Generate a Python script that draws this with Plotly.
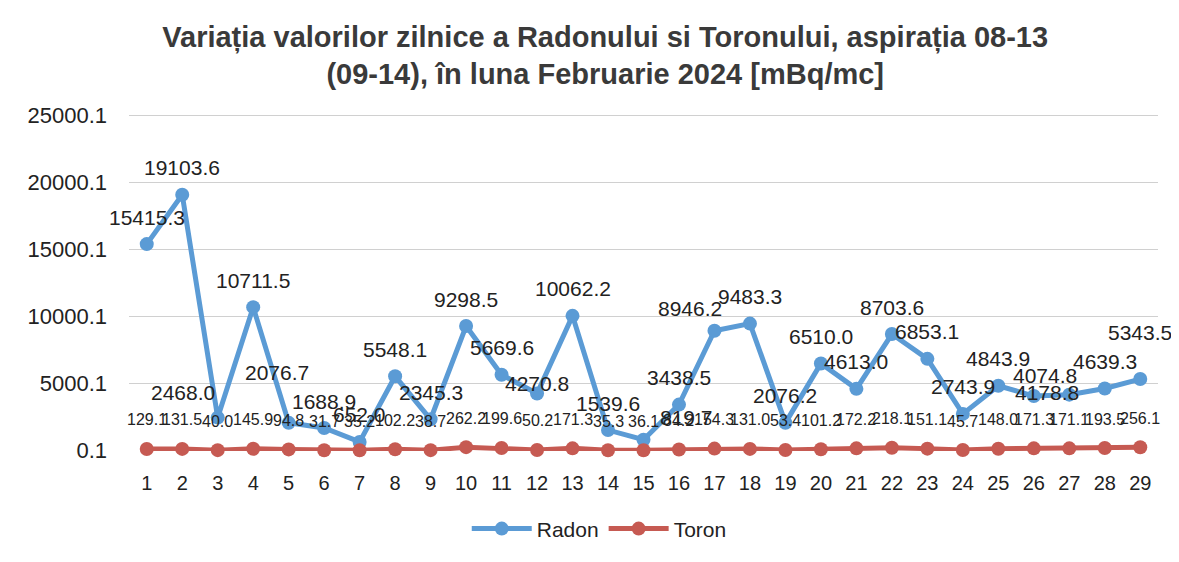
import plotly.graph_objects as go

days = [str(d) for d in range(1, 30)]
radon = [15415.3, 19103.6, 2468.0, 10711.5, 2076.7, 1688.9, 652.0, 5548.1, 2345.3, 9298.5,
         5669.6, 4270.8, 10062.2, 1539.6, 819.7, 3438.5, 8946.2, 9483.3, 2076.2, 6510.0,
         4613.0, 8703.6, 6853.1, 2743.9, 4843.9, 4074.8, 4178.8, 4639.3, 5343.5]
toron = [129.1, 131.5, 40.0, 145.9, 94.8, 31.7, 35.2, 102.2, 38.7, 262.2,
         199.6, 50.2, 171.3, 35.3, 36.1, 84.2, 154.3, 131.0, 53.4, 101.2,
         172.2, 218.1, 151.1, 45.7, 148.0, 171.3, 171.1, 193.5, 256.1]
y_ticks = [0.1, 5000.1, 10000.1, 15000.1, 20000.1, 25000.1]

font_main = "Liberation Sans, Arial, sans-serif"
blue = "#5b9bd5"
red = "#c65a52"

# label placement tweaks (pixel offsets), as the labels were moved by hand in the original
label_nudge = {2: (-35, 25), 4: (-12, 50), 11: (0, 10), 14: (43, 22), 16: (-24, 22),
               25: (11, 21), 26: (-22, 2), 28: (0, 47)}

fig = go.Figure()
fig.add_trace(go.Scatter(
    x=days, y=radon, name="Radon", mode="lines+markers",
    line=dict(color=blue, width=5), marker=dict(color=blue, size=14),
    cliponaxis=False,
))
fig.add_trace(go.Scatter(
    x=days, y=toron, name="Toron", mode="lines+markers",
    line=dict(color=red, width=5), marker=dict(color=red, size=14),
    cliponaxis=False,
))
# annotations on a category axis: use the category index
for i, v in enumerate(radon):
    dx, dy = label_nudge.get(i, (0, 27))
    fig.add_annotation(x=i, y=v, text=f"{v:.1f}", showarrow=False, xshift=dx, yshift=dy,
                       font=dict(family=font_main, size=21, color="#222222"))
for i, v in enumerate(toron):
    fig.add_annotation(x=i, y=v, text=f"{v:.1f}", showarrow=False, yshift=29,
                       font=dict(family=font_main, size=16, color="#222222"))

# the page body has an 8px margin, so the figure is drawn 8px smaller and offset
fig.update_layout(
    width=1171, height=554,
    paper_bgcolor="white", plot_bgcolor="white",
    margin=dict(l=121, r=21, t=105, b=109),
    title=dict(
        text="Variația valorilor zilnice a Radonului si Toronului, aspirația 08-13<br>(09-14), în luna Februarie 2024 [mBq/mc]",
        x=0.51, xanchor="center", y=0.93, yanchor="top",
        font=dict(family=font_main, size=29, color="#3a3a3a", weight="bold"),
    ),
    showlegend=True,
    legend=dict(orientation="h", x=0.457, xanchor="center", y=-0.17, yanchor="top",
                font=dict(family=font_main, size=21, color="#222222"), itemwidth=60),
)
fig.update_xaxes(type="category", range=[-0.5, 28.5], showgrid=False, showline=False,
                 ticks="", tickfont=dict(family=font_main, size=20, color="#222222"),
                 ticklabelstandoff=18)
fig.update_yaxes(range=[-25, 25200], tickvals=y_ticks, ticktext=[f"{v:.1f}" for v in y_ticks],
                 showgrid=True, gridcolor="#d0d0d0", gridwidth=1, zeroline=False, showline=False,
                 tickfont=dict(family=font_main, size=22, color="#222222"),
                 ticklabelstandoff=21)

fig.write_html("out.html")
